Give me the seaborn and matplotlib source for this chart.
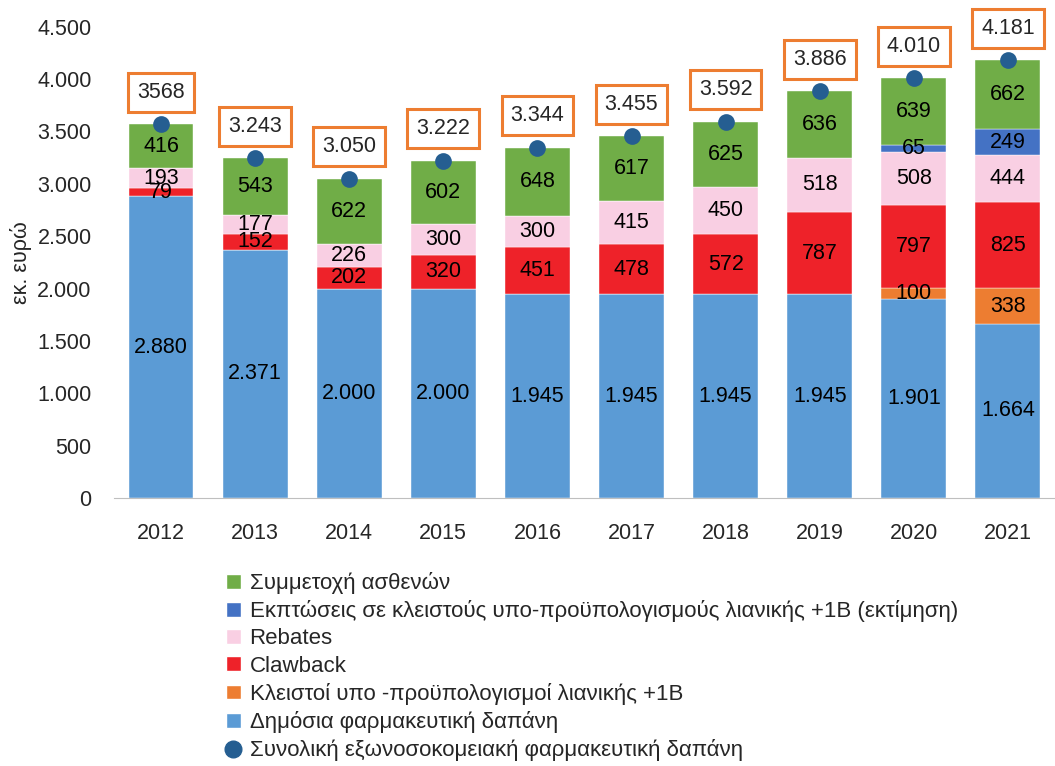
import numpy as np
import pandas as pd
import matplotlib
matplotlib.use('Agg')
import matplotlib.pyplot as plt
import seaborn as sns
from matplotlib.patches import Patch
from matplotlib.lines import Line2D

# Δεδομένα (εκ. ευρώ)
years = ['2012', '2013', '2014', '2015', '2016', '2017', '2018', '2019', '2020', '2021']
public = [2880, 2371, 2000, 2000, 1945, 1945, 1945, 1945, 1901, 1664]
closed_budgets = [0, 0, 0, 0, 0, 0, 0, 0, 100, 338]
clawback = [79, 152, 202, 320, 451, 478, 572, 787, 797, 825]
rebates = [193, 177, 226, 300, 300, 415, 450, 518, 508, 444]
discounts = [0, 0, 0, 0, 0, 0, 0, 0, 65, 249]
patients = [416, 543, 622, 602, 648, 617, 625, 636, 639, 662]
totals = [3568, 3243, 3050, 3222, 3344, 3455, 3592, 3886, 4010, 4181]
total_labels = ['3568', '3.243', '3.050', '3.222', '3.344', '3.455', '3.592', '3.886', '4.010', '4.181']

names = ['Δημόσια φαρμακευτική δαπάνη', 'Κλειστοί υπο -προϋπολογισμοί λιανικής +1Β',
         'Clawback', 'Rebates',
         'Εκπτώσεις σε κλειστούς υπο-προϋπολογισμούς λιανικής +1Β (εκτίμηση)',
         'Συμμετοχή ασθενών']
series = [public, closed_budgets, clawback, rebates, discounts, patients]
colors = ['#5B9BD5', '#ED7D31', '#EE2229', '#F9CFE3', '#4472C4', '#70AD47']
dot_color = '#255E91'
dot_name = 'Συνολική εξωνοσοκομειακή φαρμακευτική δαπάνη'

sns.set_style('white')
plt.rcParams['font.family'] = ['Liberation Sans', 'DejaVu Sans']
FS = 15.5

fig = plt.figure(figsize=(10.55, 7.66), dpi=100)
ax = fig.add_axes([0.108, 0.35, 0.892, 0.615])

def fmt(v):
    return f'{v:,}'.replace(',', '.')

bottom = np.zeros(len(years))
for vals, col in zip(series, colors):
    sns.barplot(x=years, y=vals, bottom=bottom, color=col, saturation=1, width=0.69,
                edgecolor='white', linewidth=0.3, ax=ax, zorder=2)
    for i, v in enumerate(vals):
        if v > 0:
            ax.text(i, bottom[i] + v / 2, fmt(v), ha='center', va='center',
                    fontsize=FS, color='black', zorder=5)
    bottom += np.array(vals)

sns.pointplot(x=years, y=totals, linestyle='none', marker='o', color=dot_color,
              markersize=10, ax=ax, zorder=6)

for i, (t, lab) in enumerate(zip(totals, total_labels)):
    ax.annotate(lab, (i, t), xytext=(0, 23), textcoords='offset points',
                ha='center', va='center', fontsize=FS, annotation_clip=False,
                bbox=dict(boxstyle='square,pad=0.42', fc='white', ec='#ED7D31', lw=2.2),
                zorder=7)

ax.set_ylim(0, 4500)
ax.set_xlim(-0.5, 9.5)
ax.set_yticks(range(0, 4501, 500))
ax.set_yticklabels([fmt(v) for v in range(0, 4501, 500)], fontsize=FS)
ax.tick_params(axis='x', labelsize=FS, length=0, pad=18)
ax.tick_params(axis='y', length=0, pad=16)
ax.set_ylabel('εκ. ευρώ', fontsize=FS, labelpad=4)
ax.set_xlabel('')
sns.despine(ax=ax, left=True)
ax.spines['bottom'].set_color('#BFBFBF')
ax.grid(False)

handles = [Patch(facecolor=colors[5]), Patch(facecolor=colors[4]), Patch(facecolor=colors[3]),
           Patch(facecolor=colors[2]), Patch(facecolor=colors[1]), Patch(facecolor=colors[0]),
           Line2D([], [], marker='o', color=dot_color, linestyle='none', markersize=12)]
labels = [names[5], names[4], names[3], names[2], names[1], names[0], dot_name]
fig.legend(handles, labels, loc='upper left', bbox_to_anchor=(0.206, 0.265),
           frameon=False, fontsize=16, handlelength=0.65, handleheight=0.65,
           handletextpad=0.4, labelspacing=0.28, borderaxespad=0)

fig.savefig('out.png', dpi=100)
